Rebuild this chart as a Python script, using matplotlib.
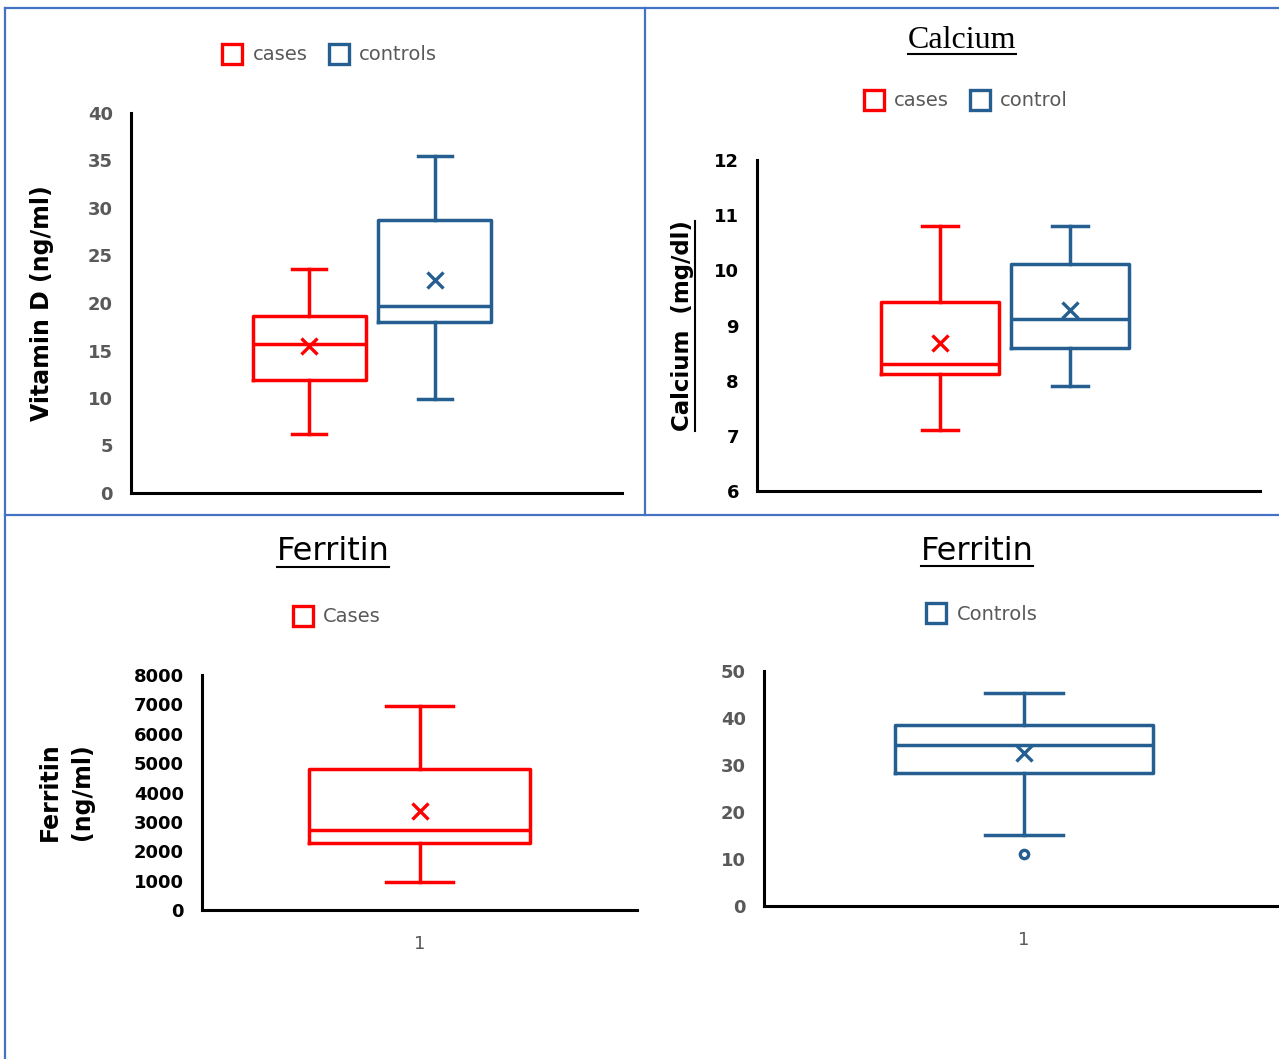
import matplotlib
matplotlib.use("Agg")
import matplotlib.pyplot as plt
from matplotlib.lines import Line2D

# ---- data (whislo, q1, med, q3, whishi, mean) ----
vitd_cases = [6.2, 11.9, 15.7, 18.6, 23.6, 15.5]
vitd_controls = [9.9, 18.0, 19.7, 28.7, 35.5, 22.4]
ca_cases = [7.11, 8.12, 8.30, 9.42, 10.81, 8.68]
ca_control = [7.91, 8.60, 9.12, 10.11, 10.81, 9.29]
ferr_cases = [940, 2290, 2730, 4790, 6950, 3380]
ferr_controls = [15.1, 28.3, 34.3, 38.5, 45.4, 32.5]
ferr_controls_fliers = [11.1]

vitd_ticks = [0, 5, 10, 15, 20, 25, 30, 35, 40]
ca_ticks = [6, 7, 8, 9, 10, 11, 12]
ferr_cases_ticks = [0, 1000, 2000, 3000, 4000, 5000, 6000, 7000, 8000]
ferr_controls_ticks = [0, 10, 20, 30, 40, 50]

RED = "#ff0000"
BLUE = "#255e91"
GRAY = "#595959"
BORDER = "#4472c4"
SANS = ["DejaVu Sans"]
SERIF = ["Liberation Serif", "DejaVu Serif"]

W, H = 1279, 1059
fig = plt.figure(figsize=(W / 100, H / 100), dpi=100)


def rect(left, right, top, bottom):
    """pixel box -> figure axes rectangle"""
    return [left / W, 1 - bottom / H, (right - left) / W, (bottom - top) / H]


def stats(vals, fliers=None):
    return {"whislo": vals[0], "q1": vals[1], "med": vals[2], "q3": vals[3],
            "whishi": vals[4], "mean": vals[5], "fliers": fliers or []}


def draw_box(ax, vals, pos, width, color, fliers=None):
    lw = 2.5
    ax.bxp([stats(vals, fliers)], positions=[pos], widths=[width],
           capwidths=[width * 0.3], showmeans=True, showfliers=True,
           boxprops=dict(color=color, linewidth=lw),
           whiskerprops=dict(color=color, linewidth=lw),
           capprops=dict(color=color, linewidth=lw),
           medianprops=dict(color=color, linewidth=lw),
           meanprops=dict(marker="x", markeredgecolor=color, markersize=11,
                          markeredgewidth=2.4),
           flierprops=dict(marker="o", markerfacecolor="white",
                           markeredgecolor=color, markersize=6,
                           markeredgewidth=2.4))


def style_axis(ax, ticks, tick_color, xlabel=None):
    for s in ["top", "right"]:
        ax.spines[s].set_visible(False)
    for s in ["left", "bottom"]:
        ax.spines[s].set_linewidth(2.2)
        ax.spines[s].set_color("black")
    ax.set_ylim(ticks[0], ticks[-1])
    ax.set_yticks(ticks)
    ax.set_yticklabels([str(t) for t in ticks], fontsize=13,
                       fontweight="bold", color=tick_color, family=SANS)
    ax.tick_params(axis="y", length=0, pad=13)
    if xlabel is None:
        ax.set_xticks([])
    else:
        ax.set_xticks([0.5])
        ax.set_xticklabels([xlabel], fontsize=13, color=GRAY, family=SANS)
        ax.tick_params(axis="x", length=0, pad=18)
    ax.set_xlim(0, 1)
    ax.set_facecolor("none")


def legend(labels, colors, cx, cy):
    handles = [Line2D([], [], ls="none", marker="s", markersize=14,
                      markerfacecolor="white", markeredgecolor=c,
                      markeredgewidth=2.4) for c in colors]
    fig.legend(handles, labels, loc="center", bbox_to_anchor=(cx / W, 1 - cy / H),
               ncol=len(labels), frameon=False, handletextpad=0.55,
               columnspacing=1.1, handlelength=1.0,
               prop=dict(family=SANS, size=14), labelcolor=GRAY)


underlines = []


def title(text, cx, cy, family, size):
    t = fig.text(cx / W, 1 - cy / H, text, ha="center", va="center",
                 fontsize=size, family=family)
    underlines.append((t, False))
    return t


# ---- Vitamin D ----
ax1 = fig.add_axes(rect(131, 622, 113, 493))
draw_box(ax1, vitd_cases, 0.363, 0.23, RED)
draw_box(ax1, vitd_controls, 0.619, 0.23, BLUE)
style_axis(ax1, vitd_ticks, GRAY)
legend(["cases", "controls"], [RED, BLUE], 330, 55)
fig.text(42 / W, 1 - 303 / H, "Vitamin D (ng/ml)", rotation=90, ha="center",
         va="center", fontsize=17, fontweight="bold", family=SANS)

# ---- Calcium ----
ax2 = fig.add_axes(rect(757, 1260, 160, 491))
draw_box(ax2, ca_cases, 0.364, 0.235, RED)
draw_box(ax2, ca_control, 0.622, 0.235, BLUE)
style_axis(ax2, ca_ticks, "black")
legend(["cases", "control"], [RED, BLUE], 966, 101)
title("Calcium", 962, 40, SERIF, 23)
t = fig.text(682 / W, 1 - 326 / H, "Calcium  (mg/dl)", rotation=90, ha="center",
             va="center", fontsize=16.5, fontweight="bold", family=SANS)
underlines.append((t, True))

# ---- Ferritin cases ----
ax3 = fig.add_axes(rect(202, 637, 675, 910))
draw_box(ax3, ferr_cases, 0.5, 0.506, RED)
style_axis(ax3, ferr_cases_ticks, "black", xlabel="1")
legend(["Cases"], [RED], 337, 617)
title("Ferritin", 333, 552, SANS, 23)
fig.text(66 / W, 1 - 792 / H, "Ferritin\n(ng/ml)", rotation=90, ha="center",
         va="center", fontsize=17, fontweight="bold", family=SANS,
         multialignment="center", linespacing=1.45)

# ---- Ferritin controls ----
ax4 = fig.add_axes(rect(764, 1284, 671, 906))
draw_box(ax4, ferr_controls, 0.5, 0.496, BLUE, fliers=ferr_controls_fliers)
style_axis(ax4, ferr_controls_ticks, GRAY, xlabel="1")
legend(["Controls"], [BLUE], 982, 614)
title("Ferritin", 977, 551, SANS, 23)

# panel borders
for x0, y0, x1, y1 in [(5, 8, 1279, 8), (5, 8, 5, 1059), (645, 8, 645, 515),
                       (5, 515, 1279, 515)]:
    fig.add_artist(Line2D([x0 / W, x1 / W], [1 - y0 / H, 1 - y1 / H],
                          color=BORDER, lw=1.6, transform=fig.transFigure))

# underline titles
fig.canvas.draw()
r = fig.canvas.get_renderer()
for t, vertical in underlines:
    bb = t.get_window_extent(r)
    if vertical:
        x = bb.x1 + 1
        fig.add_artist(Line2D([x / W, x / W], [bb.y0 / H, bb.y1 / H],
                              color="black", lw=1.5, transform=fig.transFigure))
    else:
        y = bb.y0 + 1
        fig.add_artist(Line2D([bb.x0 / W, bb.x1 / W], [y / H, y / H],
                              color="black", lw=1.5, transform=fig.transFigure))

fig.savefig("out.png", dpi=100)
